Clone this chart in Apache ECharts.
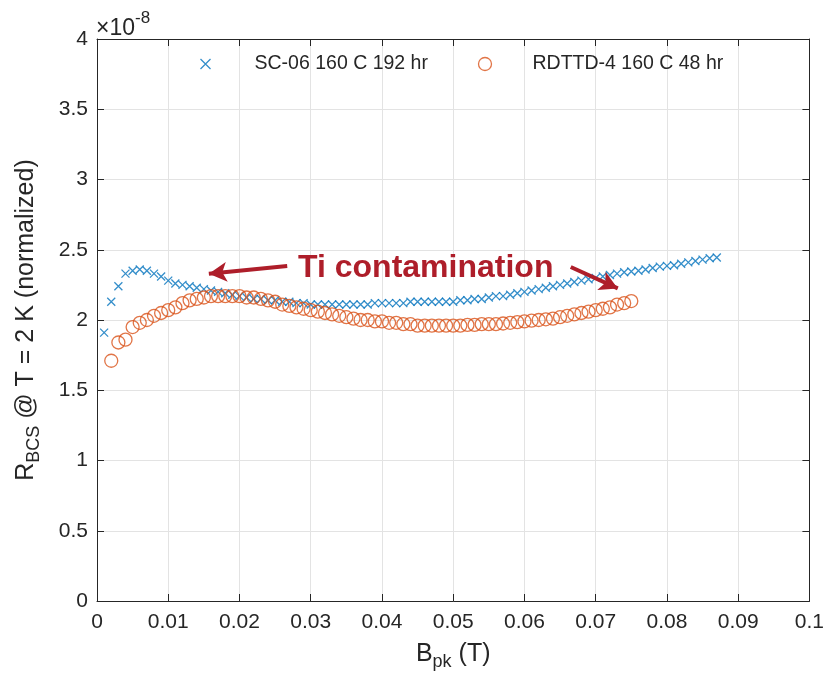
<!DOCTYPE html>
<html>
<head>
<meta charset="utf-8">
<script src="https://cdn.jsdelivr.net/npm/echarts@6/dist/echarts.min.js"></script>
<style>html,body{margin:0;padding:0;background:#fff;}#c{width:827px;height:679px;}</style>
</head>
<body>
<div id="c"></div>
<script>
// Data (y values in units of 1e-8)
const seriesNames = ['SC-06 160 C 192 hr', 'RDTTD-4 160 C 48 hr'];
const xTickLabels = ['0','0.01','0.02','0.03','0.04','0.05','0.06','0.07','0.08','0.09','0.1'];
const yTickLabels = ['0','0.5','1','1.5','2','2.5','3','3.5','4'];

const scX = [0.001,0.002,0.003,0.004,0.005,0.006,0.007,0.008,0.009,0.010,
  0.011,0.012,0.013,0.014,0.015,0.016,0.017,0.018,0.019,0.020,
  0.021,0.022,0.023,0.024,0.025,0.026,0.027,0.028,0.029,0.030,
  0.031,0.032,0.033,0.034,0.035,0.036,0.037,0.038,0.039,0.040,
  0.041,0.042,0.043,0.044,0.045,0.046,0.047,0.048,0.049,0.050,
  0.051,0.052,0.053,0.054,0.055,0.056,0.057,0.058,0.059,0.060,
  0.061,0.062,0.063,0.064,0.065,0.066,0.067,0.068,0.069,0.070,
  0.071,0.072,0.073,0.074,0.075,0.076,0.077,0.078,0.079,0.080,
  0.081,0.082,0.083,0.084,0.085,0.086,0.087];
const scY = [1.91,2.13,2.24,2.33,2.35,2.36,2.35,2.33,2.31,2.28,
  2.26,2.25,2.24,2.23,2.22,2.21,2.20,2.19,2.18,2.17,
  2.16,2.15,2.15,2.14,2.14,2.13,2.13,2.12,2.12,2.11,
  2.11,2.11,2.11,2.11,2.11,2.11,2.11,2.11,2.12,2.12,
  2.12,2.12,2.12,2.13,2.13,2.13,2.13,2.13,2.13,2.13,
  2.14,2.14,2.15,2.15,2.16,2.17,2.17,2.18,2.19,2.20,
  2.21,2.22,2.23,2.24,2.25,2.26,2.27,2.28,2.29,2.30,
  2.31,2.32,2.33,2.34,2.345,2.35,2.36,2.37,2.38,2.385,
  2.39,2.40,2.41,2.42,2.43,2.44,2.445];

const rdX = [0.002,0.003,0.004,0.005,0.006,0.007,0.008,0.009,0.010,
  0.011,0.012,0.013,0.014,0.015,0.016,0.017,0.018,0.019,0.020,
  0.021,0.022,0.023,0.024,0.025,0.026,0.027,0.028,0.029,0.030,
  0.031,0.032,0.033,0.034,0.035,0.036,0.037,0.038,0.039,0.040,
  0.041,0.042,0.043,0.044,0.045,0.046,0.047,0.048,0.049,0.050,
  0.051,0.052,0.053,0.054,0.055,0.056,0.057,0.058,0.059,0.060,
  0.061,0.062,0.063,0.064,0.065,0.066,0.067,0.068,0.069,0.070,
  0.071,0.072,0.073,0.074,0.075];
const rdY = [1.71,1.84,1.86,1.95,1.98,2.00,2.03,2.05,2.07,
  2.09,2.12,2.14,2.15,2.16,2.17,2.17,2.17,2.17,2.17,
  2.16,2.16,2.15,2.14,2.13,2.11,2.10,2.09,2.08,2.07,
  2.06,2.05,2.04,2.03,2.02,2.01,2.00,2.00,1.99,1.99,
  1.98,1.98,1.97,1.97,1.96,1.96,1.96,1.96,1.96,1.96,
  1.96,1.965,1.965,1.97,1.97,1.97,1.975,1.98,1.985,1.99,
  1.995,2.00,2.005,2.01,2.02,2.03,2.04,2.05,2.06,2.07,
  2.08,2.09,2.11,2.12,2.135];

// Annotation arrows (data coordinates: [x, y])
const arrowLeft = [[0.0267, 2.385], [0.0157, 2.33]];
const arrowRight = [[0.0665, 2.377], [0.0731, 2.225]];
const annotationText = 'Ti contamination';

const axisColor = '#262626';
const gridColor = '#e3e3e3';
const blue = '#0072BD';
const orange = '#D95319';
const red = '#AE1E2A';
const font = 'Arial, "Liberation Sans", Helvetica, sans-serif';

const chart = echarts.init(document.getElementById('c'), null, {renderer: 'canvas'});

const xLabelFmt = v => xTickLabels[Math.round(v / 0.01)] ?? '';
const yLabelFmt = v => yTickLabels[Math.round(v / 0.5)] ?? '';

const crossPath = 'path://M0,0L10,10M0,10L10,0';

const option = {
  animation: false,
  backgroundColor: '#fff',
  textStyle: {fontFamily: font},
  grid: {left: 97, right: 16, top: 39, bottom: 78, containLabel: false},
  xAxis: [{
    type: 'value', min: 0, max: 0.1, interval: 0.01, position: 'bottom',
    axisLine: {show: true, onZero: false, lineStyle: {color: axisColor, width: 1}},
    axisTick: {show: true, inside: true, length: 7, lineStyle: {color: axisColor}},
    axisLabel: {formatter: xLabelFmt, color: axisColor, fontSize: 21, margin: 11, fontFamily: font},
    splitLine: {show: true, lineStyle: {color: gridColor, width: 1}},
    name: '{a|B}{b|pk}{a| (T)}', nameLocation: 'middle', nameGap: 36,
    nameTextStyle: {rich: {
      a: {fontSize: 25, color: axisColor, fontFamily: font, verticalAlign: 'middle'},
      b: {fontSize: 18, color: axisColor, fontFamily: font, verticalAlign: 'middle', padding: [16, 0, 0, 0]}
    }}
  }, {
    type: 'value', min: 0, max: 0.1, interval: 0.01, position: 'top',
    axisLine: {show: true, onZero: false, lineStyle: {color: axisColor, width: 1}},
    axisTick: {show: true, inside: true, length: 7, lineStyle: {color: axisColor}},
    axisLabel: {show: false}, splitLine: {show: false}
  }],
  yAxis: [{
    type: 'value', min: 0, max: 4, interval: 0.5, position: 'left',
    axisLine: {show: true, onZero: false, lineStyle: {color: axisColor, width: 1}},
    axisTick: {show: true, inside: true, length: 7, lineStyle: {color: axisColor}},
    axisLabel: {formatter: yLabelFmt, color: axisColor, fontSize: 21, margin: 9, fontFamily: font},
    splitLine: {show: true, lineStyle: {color: gridColor, width: 1}},
    name: '{a|R}{b|BCS}{a| @ T = 2 K (normalized)}', nameLocation: 'middle', nameGap: 54,
    nameRotate: 90,
    nameTextStyle: {rich: {
      a: {fontSize: 25, color: axisColor, fontFamily: font, verticalAlign: 'middle'},
      b: {fontSize: 18, color: axisColor, fontFamily: font, verticalAlign: 'middle', padding: [16, 0, 0, 0]}
    }}
  }, {
    type: 'value', min: 0, max: 4, interval: 0.5, position: 'right',
    axisLine: {show: true, onZero: false, lineStyle: {color: axisColor, width: 1}},
    axisTick: {show: true, inside: true, length: 7, lineStyle: {color: axisColor}},
    axisLabel: {show: false}, splitLine: {show: false}
  }],
  legend: [{
    data: [{name: seriesNames[0], icon: crossPath}],
    left: 193, top: 49, itemWidth: 10, itemHeight: 10,
    itemStyle: {color: 'none', borderColor: blue, borderWidth: 1.3},
    textStyle: {fontSize: 19.5, color: axisColor, fontFamily: font, padding: [0, 0, 0, 39]}
  }, {
    data: [{name: seriesNames[1], icon: 'circle'}],
    left: 471, top: 49, itemWidth: 13, itemHeight: 13,
    itemStyle: {color: 'none', borderColor: orange, borderWidth: 1.3},
    textStyle: {fontSize: 19.5, color: axisColor, fontFamily: font, padding: [0, 0, 0, 36]}
  }],
  series: [{
    name: seriesNames[0], type: 'scatter', xAxisIndex: 0, yAxisIndex: 0,
    symbol: crossPath, symbolSize: 8,
    itemStyle: {color: 'none', borderColor: blue, borderWidth: 1.3},
    data: scX.map((x, i) => [x, scY[i]]),
    z: 3
  }, {
    name: seriesNames[1], type: 'scatter', xAxisIndex: 0, yAxisIndex: 0,
    symbol: 'circle', symbolSize: 13,
    itemStyle: {color: 'none', borderColor: orange, borderWidth: 1.3},
    data: rdX.map((x, i) => [x, rdY[i]]),
    z: 4,
    markLine: {
      silent: true, symbol: ['none', 'arrow'], symbolSize: [15, 18],
      lineStyle: {color: red, width: 4, type: 'solid'},
      label: {show: false},
      data: [
        [{coord: arrowLeft[0]}, {coord: arrowLeft[1]}],
        [{coord: arrowRight[0]}, {coord: arrowRight[1]}]
      ]
    }
  }],
  graphic: [{
    type: 'text', left: 298, top: 252, z: 10,
    style: {text: annotationText, fontSize: 32, fontWeight: 'bold', fill: red, fontFamily: font}
  }, {
    type: 'text', left: 96, top: 10, z: 10,
    style: {
      text: '{a|×10}{b|-8}', fontFamily: font,
      rich: {
        a: {fontSize: 23, fill: axisColor, fontFamily: font, padding: [14, 0, 0, 0]},
        b: {fontSize: 17, fill: axisColor, fontFamily: font, padding: [0, 0, 6, 0]}
      }
    }
  }]
};
chart.setOption(option);
</script>
</body>
</html>
